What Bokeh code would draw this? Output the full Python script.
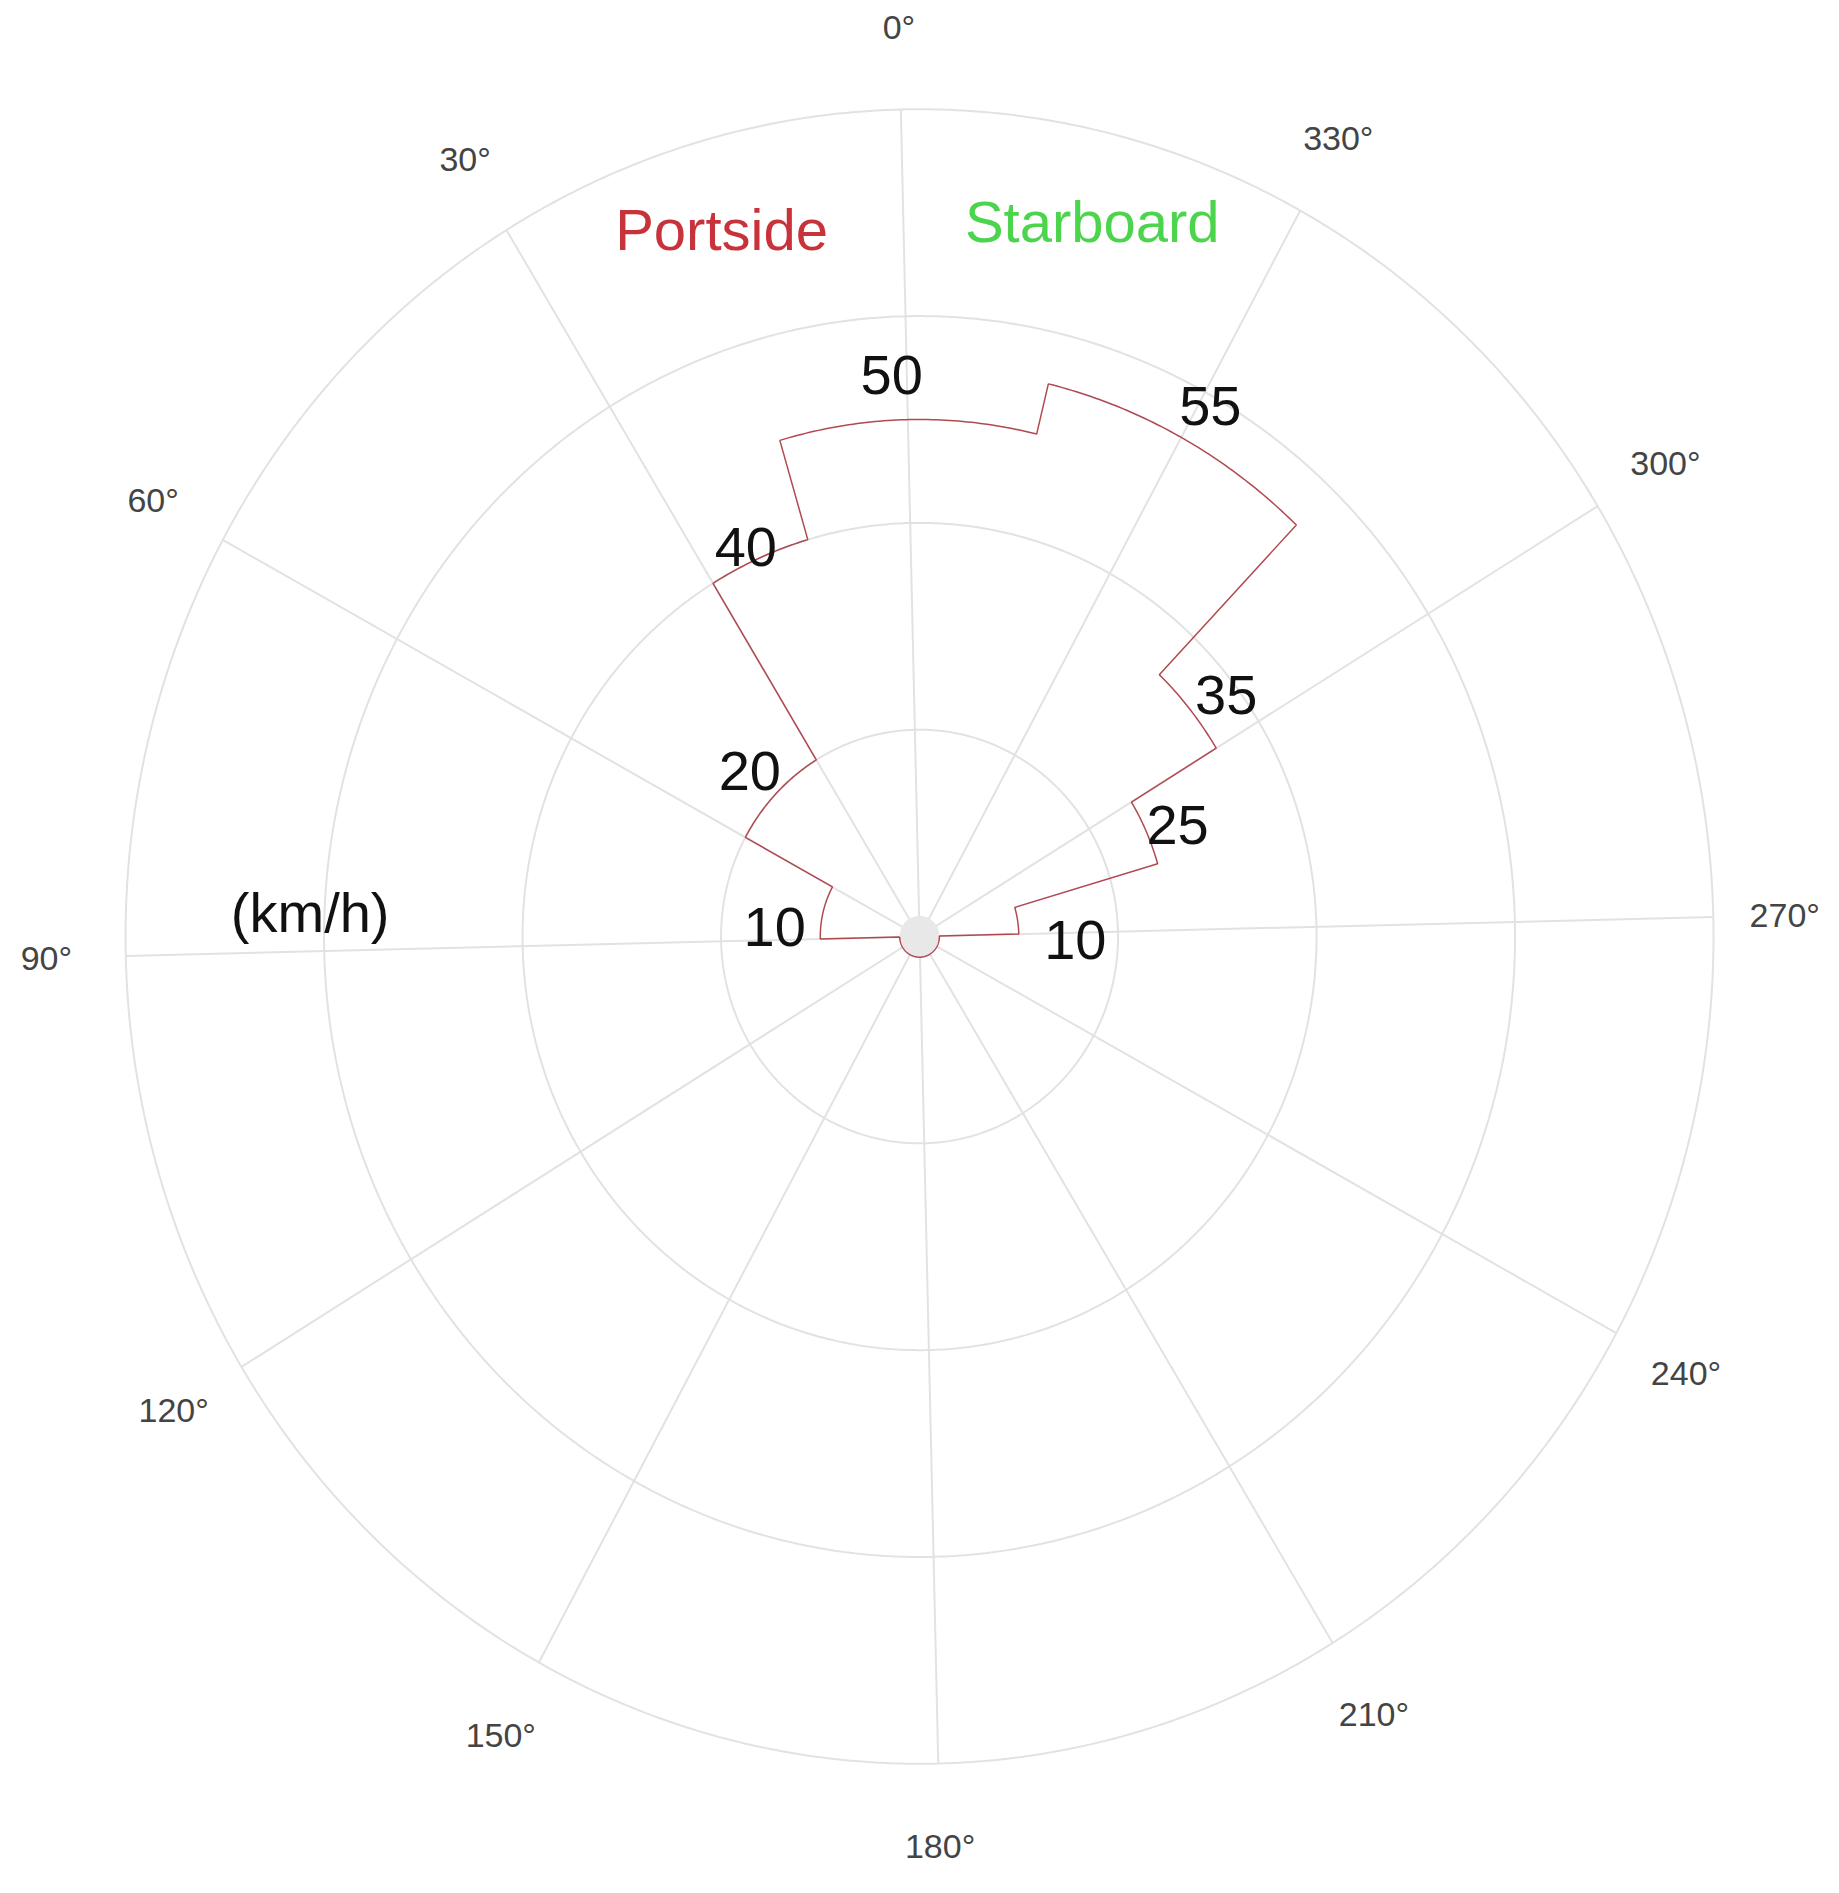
import numpy as np
from bokeh.plotting import figure
from bokeh.models import Range1d
from bokeh.core.properties import value
from bokeh.embed import file_html
from bokeh.resources import INLINE

# ---- data ----
sector_from = [90, 60, 30, 15, -15, -45, -60, -75]   # degrees, counter-clockwise from top
sector_to = [60, 30, 15, -15, -45, -60, -75, -90]
speeds = [10, 20, 40, 50, 55, 35, 25, 10]            # km/h
speed_labels = ["10", "20", "40", "50", "55", "35", "25", "10"]
angle_ticks = [0, 30, 60, 90, 120, 150, 180, 210, 240, 270, 300, 330]
angle_tick_labels = ["0°", "30°", "60°", "90°", "120°", "150°", "180°",
                     "210°", "240°", "270°", "300°", "330°"]
ring_values = [20, 40, 60, 80]
hole_radius = 2
side_labels = ["Portside", "Starboard"]
unit_label = "(km/h)"

# ---- layout (not data) ----
ROT = 1.35  # slight rotation of the whole dial
label_pos_x = [-14.6, -17.1, -17.5, -2.8, 29.3, 30.9, 26.0, 15.7]
label_pos_y = [0.9, 16.0, 37.7, 54.3, 51.3, 23.4, 10.8, -0.3]
tick_label_r = [88, 88, 88, 88, 88, 88, 88, 88, 88, 87.2, 88, 88]


def polar(r, theta_deg):
    phi = np.radians(np.asarray(theta_deg, dtype=float) + ROT)
    r = np.asarray(r, dtype=float)
    return -r * np.sin(phi), r * np.cos(phi)


W, H = 1823, 1877
p = figure(width=W, height=H, output_backend="svg", toolbar_location=None,
           x_range=Range1d(-92.6, 91.08), y_range=Range1d(-91.0, 90.52),
           min_border=0, outline_line_color=None, background_fill_color="white")
p.axis.visible = False
p.grid.visible = False

grid_col = "#e2e2e2"
# rings
full = np.linspace(0, 360, 721)
for rv in ring_values:
    gx, gy = polar(np.full_like(full, rv), full)
    p.line(gx, gy, line_color=grid_col, line_width=2)
# spokes
for a in angle_ticks:
    sx, sy = polar([0, ring_values[-1]], [a, a])
    p.line(sx, sy, line_color=grid_col, line_width=2)

# hole
hx, hy = polar(np.full_like(full, hole_radius), full)
p.patch(hx, hy, fill_color="#e8e8e8", line_color=None)

# angular tick labels
tx, ty = polar(tick_label_r, angle_ticks)
p.text(tx, ty, text=angle_tick_labels, text_align="center", text_baseline="middle",
       text_font=value("Liberation Sans"), text_font_size="34px", text_color="#444444")

# stepped speed outline
xs, ys = [], []
for f, t, v in zip(sector_from, sector_to, speeds):
    ang = np.linspace(f, t, max(int(abs(f - t) * 2), 2))
    ax, ay = polar(np.full_like(ang, v), ang)
    xs.extend(ax.tolist())
    ys.extend(ay.tolist())
bx, by = polar([hole_radius], [sector_to[-1]])
xs.append(float(bx[0])); ys.append(float(by[0]))
ang = np.linspace(sector_to[-1], sector_from[0] - 360, 181)
ax, ay = polar(np.full_like(ang, hole_radius), ang)
xs.extend(ax.tolist()); ys.extend(ay.tolist())
sx0, sy0 = polar([hole_radius], [sector_from[0]])
xs.insert(0, float(sx0[0])); ys.insert(0, float(sy0[0]))
p.line(xs, ys, line_color="#b04a50", line_width=1.5)

# value labels
p.text(label_pos_x, label_pos_y, text=speed_labels, text_align="center",
       text_baseline="middle", text_font=value("Liberation Sans"),
       text_font_size="56px", text_color="#111111")

# side labels
p.text([-19.95, 17.4], [68.4, 69.1], text=side_labels, text_align="center",
       text_baseline="middle", text_font=value("Liberation Sans"),
       text_font_size="58px", text_color=["#c8323a", "#4cd44c"])
p.text([-61.4], [2.3], text=[unit_label], text_align="center", text_baseline="middle",
       text_font=value("Liberation Sans"), text_font_size="56px", text_color="#111111")

open("out.html", "w").write(file_html(p, INLINE))
